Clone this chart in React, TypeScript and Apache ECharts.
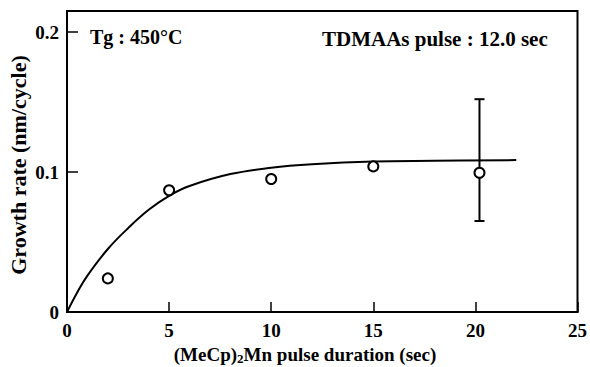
import React, { useEffect, useRef } from "react";
import * as echarts from "echarts";

const pulseX = [2, 5, 10, 15, 20.2];
const growthY = [0.024, 0.087, 0.095, 0.104, 0.0995];

const errX = [20.2];
const errLow = [0.065];
const errHigh = [0.152];

const curveX = [0, 0.5, 1, 2, 3, 4, 5, 6, 8, 10, 12, 15, 18, 22];
const curveY = [0, 0.014, 0.026, 0.045, 0.06, 0.073, 0.083, 0.09, 0.0985, 0.103, 0.1055, 0.1075, 0.108, 0.1085];

const xTicks = [0, 5, 10, 15, 20, 25];
const yTicks = [0, 0.1, 0.2];

const FONT = '"Liberation Serif", "Times New Roman", serif';

export default function App() {
  const ref = useRef<HTMLDivElement>(null);
  useEffect(() => {
    if (!ref.current) return;
    const chart = echarts.init(ref.current, null, { renderer: "svg" });
    chart.setOption({
      animation: false,
      backgroundColor: "#fff",
      grid: {
        left: 67,
        right: 12,
        top: 11,
        bottom: 55,
        show: true,
        borderColor: "#000",
        borderWidth: 2,
        backgroundColor: "transparent",
      },
      xAxis: {
        type: "value",
        min: 0,
        max: 25,
        interval: 5,
        axisLine: { show: true, lineStyle: { color: "#000", width: 2 } },
        axisTick: { show: true, inside: true, length: 10, lineStyle: { color: "#000", width: 1.5 }, customValues: xTicks },
        axisLabel: {
          customValues: xTicks,
          color: "#000",
          fontFamily: FONT,
          fontWeight: "bold",
          fontSize: 19,
          margin: 9,
        },
        splitLine: { show: false },
      },
      yAxis: {
        type: "value",
        min: 0,
        max: 0.215,
        axisLine: { show: true, lineStyle: { color: "#000", width: 2 } },
        axisTick: { show: true, inside: true, length: 11, lineStyle: { color: "#000", width: 1.5 }, customValues: yTicks },
        axisLabel: {
          customValues: yTicks,
          color: "#000",
          fontFamily: FONT,
          fontWeight: "bold",
          fontSize: 19,
          margin: 8,
          formatter: (v: number) => (v === 0 ? "0" : v.toFixed(1)),
        },
        splitLine: { show: false },
      },
      series: [
        {
          type: "line",
          data: curveX.map((x, i) => [x, curveY[i]]),
          smooth: 0.4,
          showSymbol: false,
          lineStyle: { color: "#000", width: 2 },
          z: 2,
        },
        {
          type: "custom",
          data: errX.map((x, i) => [x, errLow[i], errHigh[i]]),
          renderItem: (params: any, api: any) => {
            const lo = api.coord([api.value(0), api.value(1)]);
            const hi = api.coord([api.value(0), api.value(2)]);
            const cap = 5;
            const style = { stroke: "#000", lineWidth: 2 };
            return {
              type: "group",
              children: [
                { type: "line", shape: { x1: lo[0], y1: lo[1], x2: hi[0], y2: hi[1] }, style },
                { type: "line", shape: { x1: lo[0] - cap, y1: lo[1], x2: lo[0] + cap, y2: lo[1] }, style },
                { type: "line", shape: { x1: hi[0] - cap, y1: hi[1], x2: hi[0] + cap, y2: hi[1] }, style },
              ],
            };
          },
          z: 3,
        },
        {
          type: "scatter",
          data: pulseX.map((x, i) => [x, growthY[i]]),
          symbol: "circle",
          symbolSize: 10,
          itemStyle: { color: "#fff", borderColor: "#000", borderWidth: 2, opacity: 1 },
          z: 5,
        },
      ],
      graphic: [
        {
          type: "text",
          x: 90,
          y: 37,
          style: {
            text: "Tg : 450°C",
            fill: "#000",
            fontFamily: FONT,
            fontSize: 20,
            fontWeight: "bold",
            align: "left",
            verticalAlign: "middle",
          },
        },
        {
          type: "text",
          x: 322,
          y: 39,
          style: {
            text: "TDMAAs pulse : 12.0 sec",
            fill: "#000",
            fontFamily: FONT,
            fontSize: 21,
            fontWeight: "bold",
            align: "left",
            verticalAlign: "middle",
          },
        },
        {
          type: "text",
          x: 305,
          y: 354,
          style: {
            text: "(MeCp){sub|2}Mn pulse duration (sec)",
            fill: "#000",
            fontFamily: FONT,
            fontSize: 19,
            fontWeight: "bold",
            align: "center",
            verticalAlign: "middle",
            rich: {
              sub: {
                fontFamily: FONT,
                fontSize: 13,
                fontWeight: "bold",
                fill: "#000",
                verticalAlign: "bottom",
                padding: [8, 0, 0, 0],
              },
            },
          },
        },
        {
          type: "text",
          x: 18,
          y: 165,
          rotation: Math.PI / 2,
          style: {
            text: "Growth rate (nm/cycle)",
            fill: "#000",
            fontFamily: FONT,
            fontSize: 22,
            fontWeight: "bold",
            align: "center",
            verticalAlign: "middle",
          },
        },
      ],
    });
    return () => chart.dispose();
  }, []);
  return <div ref={ref} style={{ width: 590, height: 367, position: "absolute", left: 0, top: 0 }} />;
}
